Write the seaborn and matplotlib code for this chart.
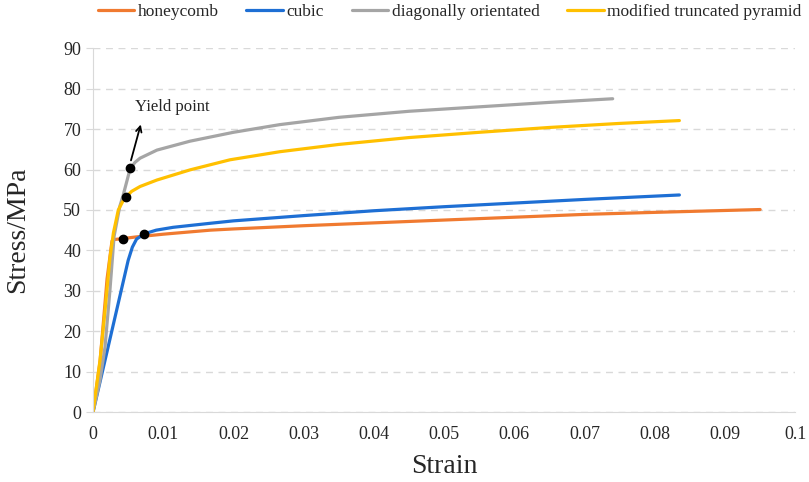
import pandas as pd
import seaborn as sns
import matplotlib.pyplot as plt

# Courbes contrainte-déformation
honeycomb_strain = [0, 0.0010, 0.0020, 0.0027, 0.0031, 0.0042, 0.006, 0.01, 0.0167, 0.02, 0.03, 0.04, 0.05, 0.06, 0.07, 0.08, 0.095]
honeycomb_stress = [0, 12.5, 33.0, 42.3, 42.7, 42.9, 43.3, 44.0, 45.0, 45.3, 46.1, 46.8, 47.5, 48.2, 48.9, 49.4, 50.1]

cubic_strain = [0, 0.0010, 0.0020, 0.0030, 0.0040, 0.0050, 0.0056, 0.0062, 0.0073, 0.0090, 0.0114, 0.0167, 0.02, 0.03, 0.04, 0.05, 0.06, 0.07, 0.0835]
cubic_stress = [0, 7.5, 15.0, 22.5, 30.0, 37.5, 40.8, 42.8, 44.1, 45.0, 45.7, 46.7, 47.3, 48.6, 49.8, 50.8, 51.7, 52.6, 53.7]

diag_strain = [0, 0.0010, 0.0017, 0.0024, 0.0030, 0.0038, 0.0043, 0.0048, 0.0053, 0.0060, 0.0067, 0.0091, 0.0138, 0.02, 0.0266, 0.035, 0.045, 0.055, 0.065, 0.074]
diag_stress = [0, 8.0, 16.0, 30.0, 43.5, 50.8, 53.7, 57.0, 60.3, 61.8, 62.8, 64.8, 67.0, 69.2, 71.1, 72.9, 74.4, 75.5, 76.6, 77.5]

pyramid_strain = [0, 0.0010, 0.0017, 0.0024, 0.0029, 0.0036, 0.0042, 0.0047, 0.0055, 0.0067, 0.0091, 0.0138, 0.0195, 0.0266, 0.035, 0.045, 0.055, 0.065, 0.075, 0.0835]
pyramid_stress = [0, 12.9, 25.0, 38.0, 44.3, 50.0, 52.0, 53.2, 54.6, 55.8, 57.4, 59.9, 62.4, 64.4, 66.2, 67.9, 69.2, 70.4, 71.4, 72.1]

yield_strain = [0.0042, 0.0073, 0.0047, 0.0053]
yield_stress = [42.8, 44.1, 53.2, 60.3]

labels = ["honeycomb", "cubic", "diagonally orientated", "modified truncated pyramid"]
colors = ["#F07A30", "#1E6FD4", "#A5A5A5", "#FFC000"]

frames = []
for name, xs, ys in zip(labels,
                        [honeycomb_strain, cubic_strain, diag_strain, pyramid_strain],
                        [honeycomb_stress, cubic_stress, diag_stress, pyramid_stress]):
    frames.append(pd.DataFrame({"Strain": xs, "Stress": ys, "type": name}))
data = pd.concat(frames, ignore_index=True)

sns.set_style("white")
plt.rcParams["font.family"] = ["Liberation Serif", "DejaVu Serif"]

fig = plt.figure(figsize=(8.09, 4.82), dpi=100)
ax = fig.add_axes([0.115, 0.145, 0.868, 0.755])

sns.lineplot(data=data, x="Strain", y="Stress", hue="type", hue_order=labels,
             palette=colors, sort=False, linewidth=2.3, ax=ax)

ax.plot(yield_strain, yield_stress, "o", color="black", markersize=6, zorder=5)
ax.annotate("", xy=(0.0069, 71.8), xytext=(0.0053, 61.6),
            arrowprops=dict(arrowstyle="->", color="black", lw=1.3))
ax.text(0.006, 74.5, "Yield point", fontsize=12)

ax.set_xlim(0, 0.1)
ax.set_ylim(0, 90)
ax.set_xticks([i / 100 for i in range(11)])
ax.set_xticklabels(["0"] + [f"0.{i:02d}" for i in range(1, 10)] + ["0.1"])
ax.set_yticks(range(0, 91, 10))
ax.tick_params(axis="both", labelsize=13)
ax.tick_params(axis="y", length=5, color="#D9D9D9", left=True)
ax.tick_params(axis="x", length=0, pad=10)
ax.yaxis.grid(True, linestyle=(0, (5, 4)), color="#D9D9D9", linewidth=1)

for side in ["top", "right"]:
    ax.spines[side].set_visible(False)
ax.spines["left"].set_color("#D9D9D9")
ax.spines["bottom"].set_color("#D9D9D9")

ax.set_xlabel("Strain", fontsize=20, labelpad=8)
ax.set_ylabel("Stress/MPa", fontsize=20, labelpad=24)

ax.get_legend().remove()
handles, _ = ax.get_legend_handles_labels()
fig.legend(handles, labels, loc="upper left", bbox_to_anchor=(0.108, 1.013), ncol=4,
           frameon=False, fontsize=12.5, handlelength=2.1, columnspacing=1.6,
           handletextpad=0.2, borderaxespad=0.2)

fig.savefig("out.png", dpi=100)
